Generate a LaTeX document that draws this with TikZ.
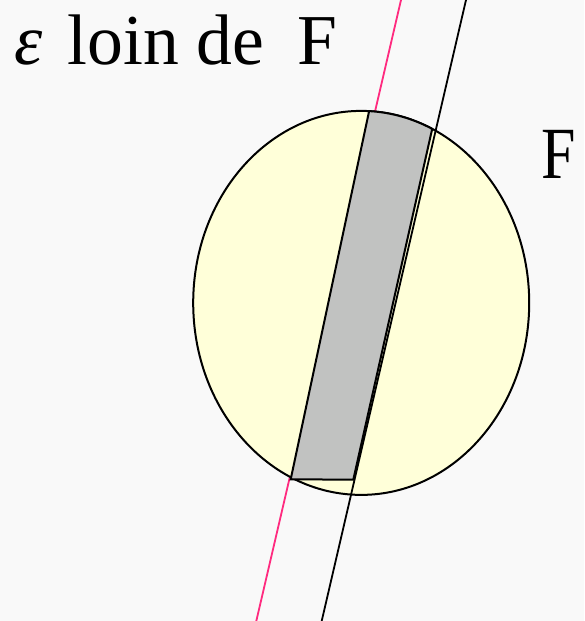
\documentclass[tikz,border=0pt]{standalone}
\usepackage{fontspec}
\setmainfont{Liberation Serif}
\usetikzlibrary{calc}
\definecolor{paper}{HTML}{F9F9F9}
\definecolor{ink}{HTML}{000000}
\definecolor{cream}{HTML}{FFFFD9}
\definecolor{band}{HTML}{C1C2C1}
\definecolor{pink}{HTML}{FF2A7F}
\tikzset{
  label/.style={anchor=base west, inner sep=0pt, font=\fontsize{#1}{44}\selectfont, text=ink},
  rim/.style={draw=ink, line width=1pt},
  ray/.style={draw=#1, line width=0.9pt}
}

\begin{document}
\begin{tikzpicture}[x=0.5pt, y=0.5pt]
  \fill[paper] (0,0) rectangle (584,621);
  \useasboundingbox (0,0) rectangle (584,621);
  \coordinate (ctr) at (361.2,318.1);
  % the two parallel lines
  \coordinate (pinkTop) at (401,621);
  \coordinate (pinkBot) at (256.3,0);
  \coordinate (lineTop) at (466,621);
  \coordinate (lineBot) at (321.7,0);
  \draw[ray=pink] (pinkTop) -- (pinkBot);
  % the set F
  \draw[rim, fill=cream] (ctr) ellipse[x radius=168, y radius=192];
  % the strip inside F
  \draw[rim, fill=band] (290.7,141.7) coordinate (stripA)
    -- (353.3,141.3) coordinate (stripB)
    -- ($(ctr)+(65:168 and 192)$) coordinate (stripC)
    arc[start angle=65, end angle=87.3, x radius=168, y radius=192] coordinate (stripD)
    -- cycle;
  \draw[ray=ink] (lineTop) -- (lineBot);
  \node[label=35.8] (eps) at (14,556) {\makebox[26.5pt][l]{\itshape ε}loin de\hspace{16.6pt}F};
  \node[label=36.8, xscale=0.84] (setF) at (541,442) {F};
\end{tikzpicture}
\end{document}
